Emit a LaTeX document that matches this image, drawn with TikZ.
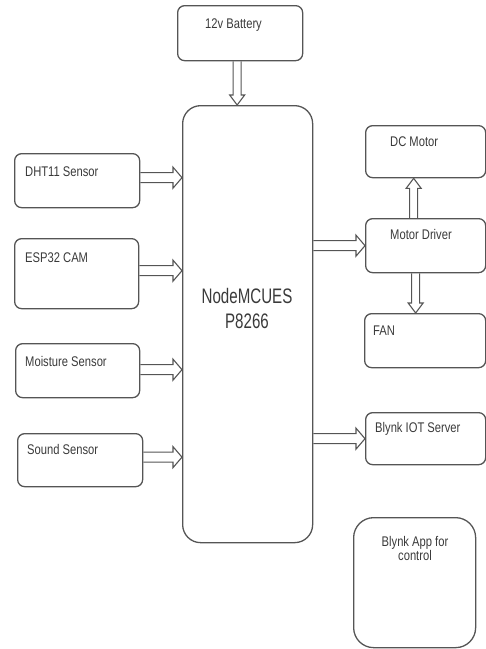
\documentclass[tikz,border=0pt]{standalone}
\usepackage{fontspec}
\setmainfont{Liberation Sans}
\usetikzlibrary{calc}
\definecolor{ln}{HTML}{555555}
\definecolor{tx}{HTML}{3A3A3A}
\newcommand\sq[1]{\scalebox{0.8}[1]{#1}}
\newcommand\sqb[1]{\scalebox{0.72}[1]{#1}}
\newcommand\harr[2]{\draw[arr] let \p1=(#1), \p2=(#2) in (\x1,\y1+5pt) -- (\x2-9pt,\y1+5pt) -- (\x2-9pt,\y1+10.5pt) -- (\x2,\y1) -- (\x2-9pt,\y1-10.5pt) -- (\x2-9pt,\y1-5pt) -- (\x1,\y1-5pt);}
\newcommand\darr[2]{\draw[arr] let \p1=(#1), \p2=(#2) in (\x1-4pt,\y1) -- (\x1-4pt,\y2+10pt) -- (\x1-7.5pt,\y2+10pt) -- (\x1,\y2) -- (\x1+7.5pt,\y2+10pt) -- (\x1+4pt,\y2+10pt) -- (\x1+4pt,\y1);}
\newcommand\uarr[2]{\draw[arr] let \p1=(#1), \p2=(#2) in (\x1-4pt,\y1) -- (\x1-4pt,\y2-10pt) -- (\x1-7.5pt,\y2-10pt) -- (\x1,\y2) -- (\x1+7.5pt,\y2-10pt) -- (\x1+4pt,\y2-10pt) -- (\x1+4pt,\y1);}
\begin{document}
\begin{tikzpicture}[x=1pt,y=-1pt,
 box/.style={draw=ln, line width=1.3pt, rounded corners=7pt, anchor=north west, inner sep=0pt},
 lbl/.style={text=tx, font=\fontsize{14}{16}\selectfont, inner sep=0pt, anchor=base west},
 big/.style={text=tx, font=\fontsize{21}{24}\selectfont, inner sep=0pt, anchor=base},
 arr/.style={draw=ln, line width=1.1pt, line join=miter}]
\useasboundingbox (0,0) rectangle (486,649);
% boxes
\node[box, minimum width=125pt, minimum height=55pt] (bat) at (177,5) {};
\node[box, rounded corners=18pt, minimum width=130pt, minimum height=437pt] (mcu) at (182,105) {};
\node[box, minimum width=125pt, minimum height=54pt] (dht) at (14,153) {};
\node[box, minimum width=124pt, minimum height=70pt] (esp) at (14,238) {};
\node[box, minimum width=124pt, minimum height=54pt] (moist) at (15,343) {};
\node[box, minimum width=125pt, minimum height=53pt] (sound) at (17,433) {};
\node[box, minimum width=120pt, minimum height=52pt] (dcm) at (365,125) {};
\node[box, minimum width=120pt, minimum height=54pt] (md) at (365,218) {};
\node[box, minimum width=121pt, minimum height=54pt] (fan) at (364,313) {};
\node[box, minimum width=120pt, minimum height=52pt] (iot) at (365,412) {};
\node[box, rounded corners=20pt, minimum width=122pt, minimum height=130pt] (app) at (353,517) {};
% labels
\node[lbl] (lbat) at (205,28) {\sq{12v Battery}};
\node[lbl] (ldht) at (25,176) {\sq{DHT11 Sensor}};
\node[lbl] (lesp) at (25,262) {\sq{ESP32 CAM}};
\node[lbl] (lmoist) at (25,366) {\sq{Moisture Sensor}};
\node[lbl] (lsound) at (27,454) {\sq{Sound Sensor}};
\node[lbl] (ldcm) at (390,146) {\sq{DC Motor}};
\node[lbl] (lmd) at (390,239) {\sq{Motor Driver}};
\node[lbl] (lfan) at (373,335) {\sq{FAN}};
\node[lbl] (liot) at (375,432) {\sq{Blynk IOT Server}};
\node[lbl, anchor=base] (lapp1) at (415,546) {\sq{Blynk App for}};
\node[lbl, anchor=base] (lapp2) at (415,560) {\sq{control}};
\node[big] (lmcu1) at (247,303) {\sqb{NodeMCUES}};
\node[big] (lmcu2) at (247,328) {\sqb{P8266}};
% arrows
\darr{[xshift=-3pt]bat.south}{mcu.north}
\harr{[yshift=3pt]dht.east}{mcu.west}
\harr{[yshift=3pt]esp.east}{mcu.west}
\harr{[yshift=1pt]moist.east}{mcu.west}
\harr{[yshift=3pt]sound.east}{mcu.west}
\harr{mcu.east |- md.west}{md.west}
\harr{mcu.east |- iot.west}{iot.west}
\uarr{[xshift=-12pt]md.north}{dcm.south}
\darr{[xshift=-10pt]md.south}{fan.north}
\end{tikzpicture}
\end{document}
